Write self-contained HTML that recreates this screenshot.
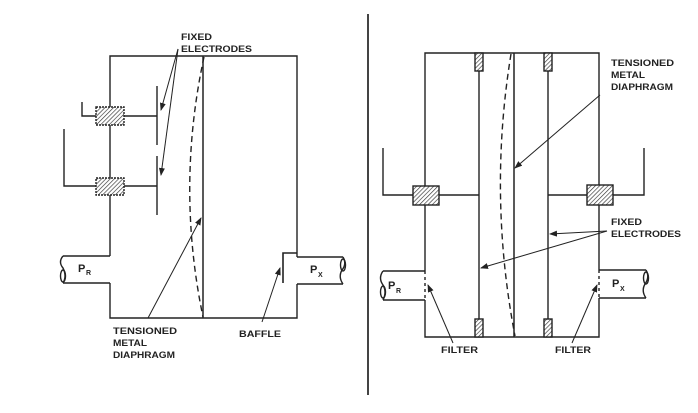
<!DOCTYPE html>
<html><head><style>
html,body{margin:0;padding:0;background:#fff;}
svg{display:block;}
text{font-family:"Liberation Sans",sans-serif;font-size:9px;font-weight:bold;fill:#222;}
</style></head><body>
<svg width="698" height="413" viewBox="0 0 698 413" xmlns="http://www.w3.org/2000/svg">
<defs>
<pattern id="h" width="3" height="3" patternUnits="userSpaceOnUse" patternTransform="rotate(45)">
<rect width="3" height="3" fill="#fff"/><line x1="0" y1="0" x2="0" y2="3" stroke="#333" stroke-width="1.3"/>
</pattern>
<marker id="a" markerWidth="8" markerHeight="6" refX="7" refY="3" orient="auto" markerUnits="userSpaceOnUse">
<path d="M0,0 L8,3 L0,6 z" fill="#222"/></marker>
</defs>
<g stroke="#222" stroke-width="1.4" fill="none">
<line x1="368" y1="14" x2="368" y2="395" stroke="#444" stroke-width="2"/>

<polyline points="110,256 110,56 297,56 297,257"/>
<polyline points="110,283 110,318 297,318 297,284"/>
<line x1="203" y1="56" x2="203" y2="318" stroke-width="1.5"/>
<path d="M204,57 Q176,187 203,317" stroke-dasharray="6,4"/>
<line x1="157" y1="86" x2="157" y2="145"/>
<line x1="157" y1="156" x2="157" y2="215"/>
<line x1="124" y1="116" x2="157" y2="116"/>
<line x1="124" y1="186" x2="157" y2="186"/>
<polyline points="82,102 82,116 96,116"/>
<polyline points="64,129 64,186 96,186"/>
<rect x="96" y="107" width="28" height="18" fill="url(#h)" stroke-dasharray="2,1"/>
<rect x="96" y="178" width="28" height="17" fill="url(#h)" stroke-dasharray="2,1"/>
<line x1="63" y1="256" x2="110" y2="256"/>
<line x1="63" y1="283" x2="110" y2="283"/>
<path d="M63,256 Q58,262 63,268 Q67,276 63,283"/>
<ellipse cx="63" cy="276" rx="2.5" ry="6"/>
<line x1="297" y1="257" x2="343" y2="257"/>
<line x1="297" y1="284" x2="343" y2="284"/>
<path d="M343,257 Q347,264 342,270 Q338,277 343,284"/>
<ellipse cx="343" cy="265" rx="2.5" ry="6"/>
<polyline points="297,253 283,253 283,283" stroke-width="1.6"/>
<line x1="178" y1="49" x2="161" y2="110" marker-end="url(#a)" stroke-width="1"/>
<line x1="178" y1="49" x2="161" y2="175" marker-end="url(#a)" stroke-width="1"/>
<line x1="148" y1="318" x2="201" y2="218" marker-end="url(#a)" stroke-width="1"/>
<line x1="262" y1="322" x2="280" y2="268" marker-end="url(#a)" stroke-width="1"/>

<polyline points="425,271 425,53 599,53 599,270"/>
<polyline points="425,300 425,337 599,337 599,298"/>
<line x1="425" y1="271" x2="425" y2="300" stroke-dasharray="3,3"/>
<line x1="599" y1="270" x2="599" y2="298" stroke-dasharray="3,3"/>
<line x1="479" y1="53" x2="479" y2="337"/>
<line x1="548" y1="53" x2="548" y2="337"/>
<line x1="514" y1="53" x2="514" y2="337" stroke-width="1.5"/>
<path d="M511,54 Q488,195 515,336" stroke-dasharray="6,4"/>
<rect x="475" y="53" width="8" height="18" fill="url(#h)"/>
<rect x="544" y="53" width="8" height="18" fill="url(#h)"/>
<rect x="475" y="319" width="8" height="18" fill="url(#h)"/>
<rect x="544" y="319" width="8" height="18" fill="url(#h)"/>
<polyline points="383,148 383,195 479,195"/>
<polyline points="644,148 644,195 548,195"/>
<rect x="413" y="186" width="26" height="19" fill="url(#h)"/>
<rect x="587" y="185" width="26" height="20" fill="url(#h)"/>
<line x1="383" y1="271" x2="425" y2="271"/>
<line x1="383" y1="300" x2="425" y2="300"/>
<path d="M383,271 Q378,278 383,285 Q387,292 383,300"/>
<ellipse cx="383" cy="292" rx="2.5" ry="6"/>
<line x1="599" y1="270" x2="646" y2="270"/>
<line x1="599" y1="298" x2="646" y2="298"/>
<path d="M646,270 Q650,277 645,284 Q641,291 646,298"/>
<ellipse cx="646" cy="278" rx="2.5" ry="6"/>
<line x1="600" y1="95" x2="515" y2="168" marker-end="url(#a)" stroke-width="1"/>
<line x1="607" y1="231" x2="550" y2="234" marker-end="url(#a)" stroke-width="1"/>
<line x1="607" y1="231" x2="481" y2="268" marker-end="url(#a)" stroke-width="1"/>
<line x1="453" y1="343" x2="428" y2="285" marker-end="url(#a)" stroke-width="1"/>
<line x1="572" y1="343" x2="597" y2="285" marker-end="url(#a)" stroke-width="1"/>
</g>
<g>
<text x="181" y="40" textLength="31" lengthAdjust="spacingAndGlyphs">FIXED</text>
<text x="181" y="52" textLength="71" lengthAdjust="spacingAndGlyphs">ELECTRODES</text>
<text x="113" y="334" textLength="64" lengthAdjust="spacingAndGlyphs">TENSIONED</text>
<text x="113" y="346" textLength="34" lengthAdjust="spacingAndGlyphs">METAL</text>
<text x="113" y="358" textLength="62" lengthAdjust="spacingAndGlyphs">DIAPHRAGM</text>
<text x="239" y="337" textLength="42" lengthAdjust="spacingAndGlyphs">BAFFLE</text>
<text x="78" y="272" style="font-size:11px">P</text><text x="86" y="275" style="font-size:7px">R</text>
<text x="310" y="273" style="font-size:11px">P</text><text x="318" y="277" style="font-size:7px">X</text>
<text x="611" y="66" textLength="63" lengthAdjust="spacingAndGlyphs">TENSIONED</text>
<text x="611" y="78" textLength="34" lengthAdjust="spacingAndGlyphs">METAL</text>
<text x="611" y="90" textLength="62" lengthAdjust="spacingAndGlyphs">DIAPHRAGM</text>
<text x="611" y="225" textLength="31" lengthAdjust="spacingAndGlyphs">FIXED</text>
<text x="611" y="237" textLength="70" lengthAdjust="spacingAndGlyphs">ELECTRODES</text>
<text x="441" y="353" textLength="37" lengthAdjust="spacingAndGlyphs">FILTER</text>
<text x="555" y="353" textLength="36" lengthAdjust="spacingAndGlyphs">FILTER</text>
<text x="388" y="289" style="font-size:11px">P</text><text x="396" y="293" style="font-size:7px">R</text>
<text x="612" y="287" style="font-size:11px">P</text><text x="620" y="291" style="font-size:7px">X</text>
</g>
</svg>
</body></html>
